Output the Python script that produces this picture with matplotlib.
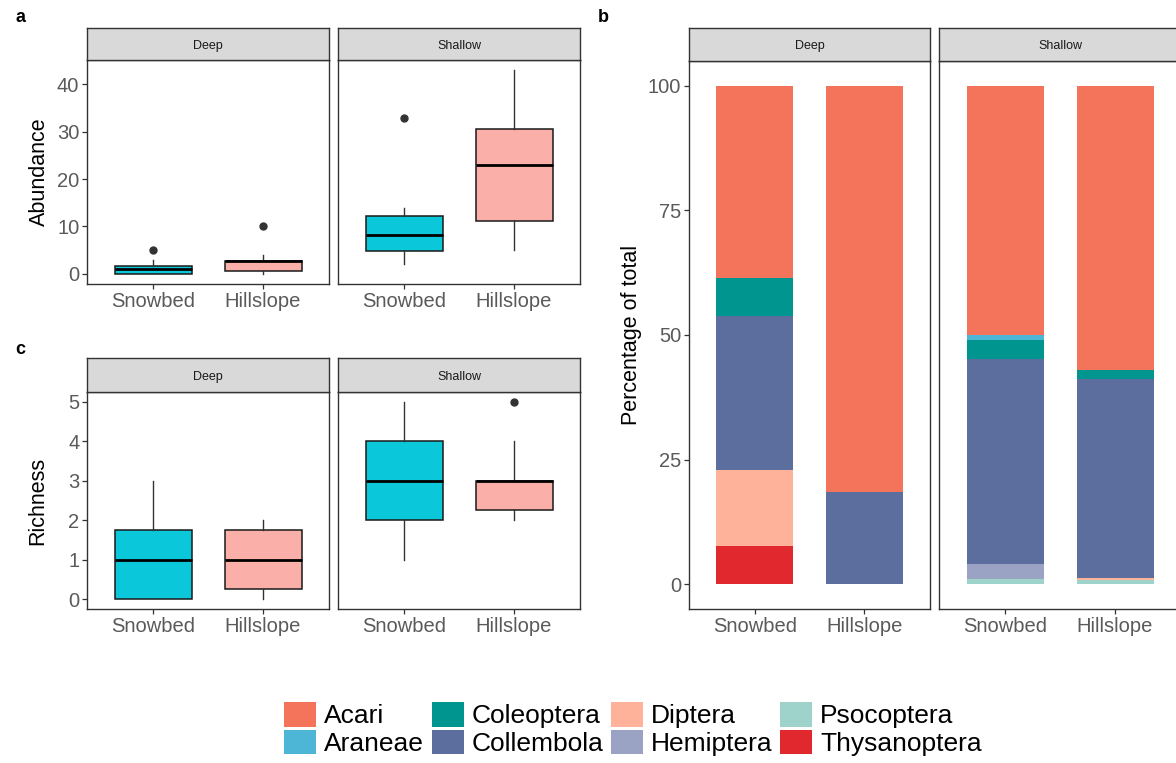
import numpy as np
import matplotlib
matplotlib.use("Agg")
import matplotlib.pyplot as plt
from matplotlib.patches import Patch

plt.rcParams["font.family"] = ["Liberation Sans", "DejaVu Sans"]

# categories
habitats = ["Snowbed", "Hillslope"]
depths = ["Deep", "Shallow"]
taxa = ["Acari", "Araneae", "Coleoptera", "Collembola",
        "Diptera", "Hemiptera", "Psocoptera", "Thysanoptera"]

# abundance box stats, [depth][habitat]
abund_whislo = [[0, 0], [2, 5]]
abund_q1 = [[0, 0.5], [4.75, 11.25]]
abund_med = [[1, 2.75], [8.25, 23]]
abund_q3 = [[1.75, 2.75], [12.25, 30.5]]
abund_whishi = [[3, 4], [14, 43]]
abund_out = [[[5], [10]], [[33], []]]

# richness box stats, [depth][habitat]
rich_whislo = [[0, 0], [1, 2]]
rich_q1 = [[0, 0.25], [2, 2.25]]
rich_med = [[1, 1], [3, 3]]
rich_q3 = [[1.75, 1.75], [4, 3]]
rich_whishi = [[3, 2], [5, 4]]
rich_out = [[[], []], [[], [5]]]

# percentage of total per taxon (same order as taxa)
pct_deep_snowbed = [38.5, 0, 7.7, 30.8, 15.4, 0, 0, 7.6]
pct_deep_hillslope = [81.6, 0, 0, 18.4, 0, 0, 0, 0]
pct_shallow_snowbed = [50.0, 1.0, 3.9, 41.1, 0, 3.0, 1.0, 0]
pct_shallow_hillslope = [57.0, 0, 1.9, 39.8, 0.5, 0, 0.8, 0]

habitat_colors = ["#0AC8DA", "#FBAFA9"]
taxa_colors = ["#F4735B", "#4DB6D6", "#00968F", "#5B6E9E",
               "#FDB299", "#9AA3C4", "#9ED3CB", "#E0282E"]

W, H = 1176, 763
fig = plt.figure(figsize=(W / 100, H / 100), dpi=100)

border = "#333333"
tick_col = "#5a5a5a"


def px_axes(x0, y0, x1, y1):
    return fig.add_axes([x0 / W, 1 - y1 / H, (x1 - x0) / W, (y1 - y0) / H])


def strip(x0, y0, x1, y1, label):
    s = px_axes(x0, y0, x1, y1)
    s.set_facecolor("#D9D9D9")
    s.set_xticks([])
    s.set_yticks([])
    for sp in s.spines.values():
        sp.set_color(border)
        sp.set_linewidth(1.0)
    s.text(0.5, 0.45, label, ha="center", va="center", fontsize=9, color="#1a1a1a")
    return s


def style_panel(ax, show_y):
    for sp in ax.spines.values():
        sp.set_color(border)
        sp.set_linewidth(1.0)
    ax.tick_params(axis="both", colors=border, labelcolor=tick_col,
                   labelsize=14.5, length=3.5, width=0.9, pad=2)
    ax.set_xlim(0.4, 2.6)
    ax.set_xticks([1, 2])
    ax.set_xticklabels(habitats)
    if not show_y:
        ax.tick_params(axis="y", left=False, labelleft=False)


def box_panel(ax, d, whislo, q1, med, q3, whishi, out):
    stats = []
    for h in range(2):
        stats.append(dict(whislo=whislo[d][h], q1=q1[d][h], med=med[d][h],
                          q3=q3[d][h], whishi=whishi[d][h], fliers=out[d][h]))
    bp = ax.bxp(stats, positions=[1, 2], widths=0.7, patch_artist=True,
                showcaps=False,
                boxprops=dict(edgecolor="#1a1a1a", linewidth=1.1),
                medianprops=dict(color="black", linewidth=2.0),
                whiskerprops=dict(color="#333333", linewidth=1.0),
                flierprops=dict(marker="o", markerfacecolor="#333333",
                                markeredgecolor="#333333", markersize=5))
    for patch, c in zip(bp["boxes"], habitat_colors):
        patch.set_facecolor(c)


panel_x = [(87, 329), (338, 580)]

# a: abundance
for d, (x0, x1) in enumerate(panel_x):
    ax = px_axes(x0, 60, x1, 284)
    box_panel(ax, d, abund_whislo, abund_q1, abund_med, abund_q3, abund_whishi, abund_out)
    ax.set_ylim(-2.15, 45.15)
    ax.set_yticks([0, 10, 20, 30, 40])
    style_panel(ax, d == 0)
    if d == 0:
        ax.set_ylabel("Abundance", fontsize=15.5, labelpad=5)
    strip(x0, 28, x1, 60, depths[d])

# c: richness
for d, (x0, x1) in enumerate(panel_x):
    ax = px_axes(x0, 392, x1, 609)
    box_panel(ax, d, rich_whislo, rich_q1, rich_med, rich_q3, rich_whishi, rich_out)
    ax.set_ylim(-0.25, 5.25)
    ax.set_yticks([0, 1, 2, 3, 4, 5])
    style_panel(ax, d == 0)
    if d == 0:
        ax.set_ylabel("Richness", fontsize=15.5, labelpad=14.5)
    strip(x0, 358, x1, 392, depths[d])

# b: composition, stacked from the last taxon upwards
comp = [[pct_deep_snowbed, pct_deep_hillslope],
        [pct_shallow_snowbed, pct_shallow_hillslope]]
b_x = [(689, 930), (939, 1181)]
for d, (x0, x1) in enumerate(b_x):
    ax = px_axes(x0, 61, x1, 609)
    for h in range(2):
        bottom = 0.0
        for i in reversed(range(len(taxa))):
            v = comp[d][h][i]
            if v > 0:
                ax.bar(h + 1, v, width=0.7, bottom=bottom, color=taxa_colors[i],
                       linewidth=0)
            bottom += v
    ax.set_ylim(-5, 105)
    ax.set_yticks([0, 25, 50, 75, 100])
    style_panel(ax, d == 0)
    if d == 0:
        ax.set_ylabel("Percentage of total", fontsize=15.5, labelpad=4)
    strip(x0, 28, x1, 61, depths[d])

# panel letters
fig.text(15 / W, 1 - 18 / H, "a", fontsize=13, fontweight="bold", va="center")
fig.text(15 / W, 1 - 350 / H, "c", fontsize=13, fontweight="bold", va="center")
fig.text(598 / W, 1 - 18 / H, "b", fontsize=13, fontweight="bold", va="center")

handles = [Patch(facecolor=c, edgecolor="none") for c in taxa_colors]
fig.legend(handles, taxa, ncol=4, loc="center", bbox_to_anchor=(633 / W, 1 - 729 / H),
           frameon=False, fontsize=19, handlelength=1.2, handleheight=1.05,
           handletextpad=0.3, columnspacing=0.3, labelspacing=0.05,
           borderpad=0)

fig.savefig("out.png", dpi=100)
